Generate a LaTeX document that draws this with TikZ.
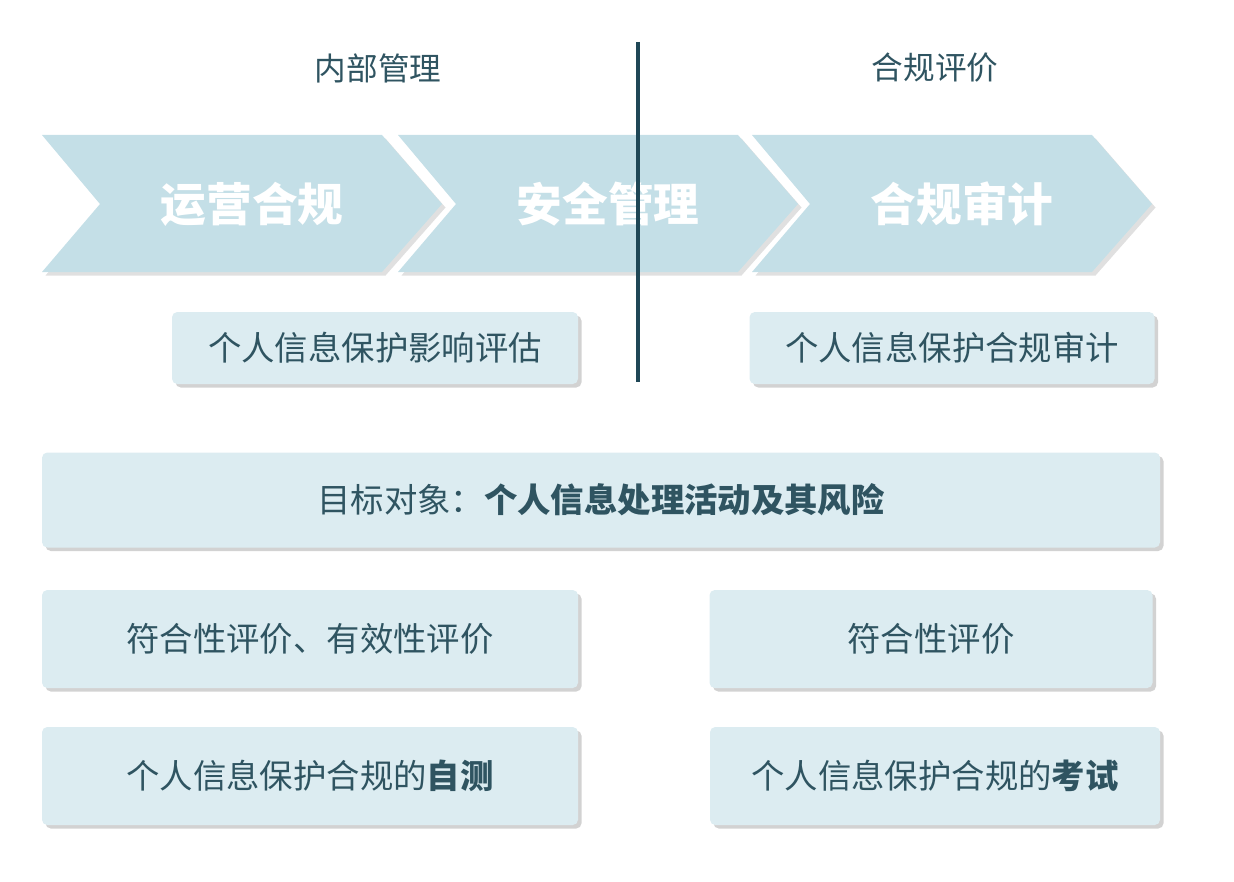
\documentclass[tikz,border=0pt]{standalone}
\usepackage{fontspec}
\setmainfont{Noto Sans CJK SC}
\usetikzlibrary{shadows}
\definecolor{chev}{HTML}{C4DFE7}
\definecolor{boxfill}{HTML}{DCECF1}
\definecolor{ink}{HTML}{2F5461}
\definecolor{rule}{HTML}{1F4756}
\tikzset{
  infobox/.style = {fill = boxfill, draw = none, rounded corners = 3pt,
    drop shadow = {shadow xshift = 2pt, shadow yshift = -2pt, fill = black!35, opacity = .5},
    text = ink, font = \fontsize{19}{22}\selectfont},
  chevtext/.style = {text = white, font = \fontsize{26}{30}\selectfont\bfseries},
  head/.style = {text = ink, font = \fontsize{18}{22}\selectfont}
}
\begin{document}
\begin{tikzpicture}[x = 0.02cm, y = -0.02cm]
    \useasboundingbox (0, 0) rectangle (1234, 882);

    % chevrons
    \foreach \x/\name/\txt in {42/ops/运营合规, 398/sec/安全管理, 752/aud/合规审计} {
        \fill [chev, drop shadow = {shadow xshift = 2pt, shadow yshift = -2pt, fill = black!30, opacity = .4}]
          (\x, 135) -- (\x + 340, 135) -- (\x + 400, 204) -- (\x + 340, 272)
          -- (\x, 272) -- (\x + 58, 204) -- cycle;
        \node [chevtext] (\name) at (\x + 210, 204) {\txt};
    }

    \draw [rule, line width = 2pt] (638, 42) -- (638, 382);

    \node [head] (inner) at (378, 68) {内部管理};
    \node [head] (eval) at (935, 68) {合规评价};

    % boxes
    \node [infobox, minimum width = 406*0.02cm, minimum height = 72*0.02cm] (pia) at (375, 348) {个人信息保护影响评估};
    \node [infobox, minimum width = 405*0.02cm, minimum height = 72*0.02cm] (audit) at (952, 348) {个人信息保护合规审计};
    \node [infobox, minimum width = 1118*0.02cm, minimum height = 95*0.02cm] (target) at (601, 500) {目标对象：\textbf{个人信息处理活动及其风险}};
    \node [infobox, minimum width = 536*0.02cm, minimum height = 98*0.02cm] (evalL) at (310, 639) {符合性评价、有效性评价};
    \node [infobox, minimum width = 443*0.02cm, minimum height = 98*0.02cm] (evalR) at (931, 639) {符合性评价};
    \node [infobox, minimum width = 536*0.02cm, minimum height = 98*0.02cm] (self) at (310, 776) {个人信息保护合规的\textbf{自测}};
    \node [infobox, minimum width = 450*0.02cm, minimum height = 98*0.02cm] (exam) at (935, 776) {个人信息保护合规的\textbf{考试}};
\end{tikzpicture}
\end{document}
